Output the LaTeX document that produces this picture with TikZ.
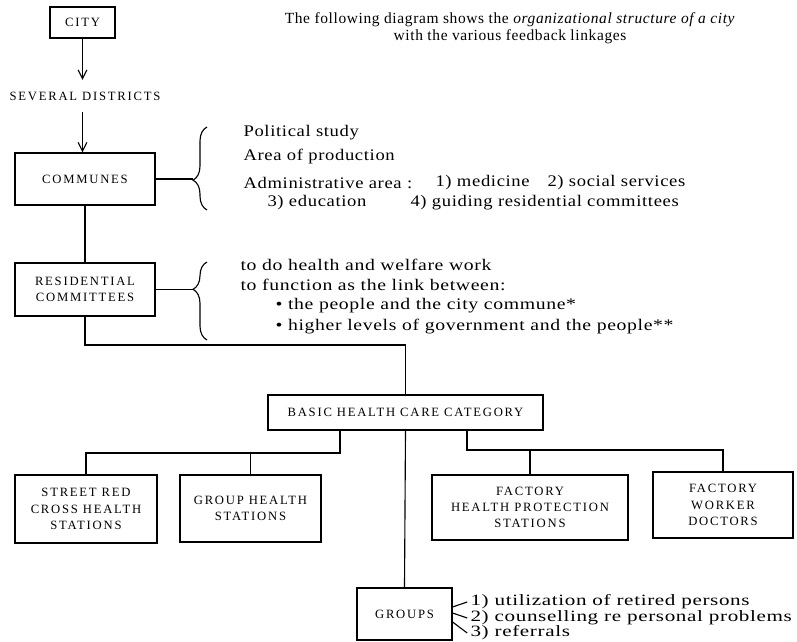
\documentclass[tikz,border=0pt]{standalone}
\usepackage{fontspec}
\setmainfont{Liberation Serif}
\newfontfamily\capsfont[LetterSpace=14]{Liberation Serif}
\newfontfamily\plainfont[LetterSpace=4]{Liberation Serif}
\newfontfamily\notesfont[LetterSpace=4, FakeStretch=1.15]{Liberation Serif}
\newfontfamily\widefont[LetterSpace=4, FakeStretch=1.22]{Liberation Serif}
\newfontfamily\itemfont[LetterSpace=4, FakeStretch=1.34]{Liberation Serif}
\newcommand\boxfont{\capsfont\fontsize{9}{11.5}\selectfont}
\newcommand\titlefont{\plainfont\fontsize{11}{12}\selectfont}
\usetikzlibrary{arrows.meta,decorations.pathreplacing}
\tikzset{
  unit/.style = {draw, align=center, font=\boxfont, inner sep=2pt},
  note/.style = {anchor=west, font=\notesfont\fontsize{11.5}{13.5}\selectfont, inner sep=0pt},
  wide/.style = {note, font=\widefont\fontsize{11.5}{13.5}\selectfont},
  item/.style = {note, font=\itemfont\fontsize{11.2}{13}\selectfont},
  curly/.style = {decorate, decoration={brace, amplitude=0.35cm, aspect=#1}},
  curly/.default = 0.5
}

\begin{document}
\begin{tikzpicture}[x=0.025cm, y=-0.025cm, line width=0.8pt,
    >={Straight Barb[length=2.2mm, width=2.2mm]}]
  \useasboundingbox (0,0) rectangle (797,642);

  \node[align=center, font=\titlefont] (title) at (510,28)
    {The following diagram shows the \textit{organizational structure of a city}\\
     with the various feedback linkages};

  % chain of command
  \node[unit, minimum width=1.625cm, minimum height=0.775cm] (city) at (82.5,22.5) {CITY};
  \node[font=\boxfont, inner xsep=0pt, inner ysep=0.28cm] (districts) at (85,96) {SEVERAL DISTRICTS};
  \node[unit, minimum width=3.5cm, minimum height=1.3cm] (communes) at (85,179) {COMMUNES};
  \node[unit, minimum width=3.5cm, minimum height=1.325cm] (resid) at (85,289.5)
    {RESIDENTIAL\\COMMITTEES};
  \node[unit, minimum width=6.875cm, minimum height=0.875cm] (basic) at (405.5,412.5)
    {BASIC HEALTH CARE CATEGORY};

  \draw[->] (city.south) -- (city.south |- districts.north);
  \draw[->] (districts.south -| city.south) -- (communes.north -| city.south);
  \draw (communes.south) -- (resid.north);

  % tasks of the communes
  \draw[curly=0.36] (207,210) -- (207,127);
  \coordinate (tip1) at (193,179);
  \draw (communes.east) -- (tip1);
  \node[note] (pol) at (243,133) {Political study};
  \node[note] (area) at (243,157) {Area of production};
  \node[note] (admin) at (243,183) {Administrative area :};
  \node[note] (med) at (435,183) {1) medicine};
  \node[note] (soc) at (547,183) {2) social services};
  \node[note] (edu) at (267,203) {3) education};
  \node[note] (guide) at (410,203) {4) guiding residential committees};

  % tasks of the residential committees
  \draw[curly=0.65] (207,340) -- (207,262);
  \coordinate (tip2) at (193,289.5);
  \draw (resid.east) -- (tip2);
  \node[wide] (work) at (240,265) {to do health and welfare work};
  \node[wide] (link) at (240,285) {to function as the link between:};
  \node[wide] (link1) at (275,306) {\textbullet\ the people and the city commune*};
  \node[wide] (link2) at (275,327) {\textbullet\ higher levels of government and the people**};

  \coordinate (bend) at (85,345);
  \draw (resid.south) -- (bend) -| (basic.north);

  % health care units
  \node[unit, minimum width=3.55cm, minimum height=1.7cm] (street) at (86,509)
    {STREET RED\\CROSS HEALTH\\STATIONS};
  \node[unit, minimum width=3.525cm, minimum height=1.675cm] (grouphs) at (250.5,508.5)
    {GROUP HEALTH\\STATIONS};
  \node[unit, minimum width=4.9cm, minimum height=1.625cm] (fhps) at (530,507.5)
    {FACTORY\\HEALTH PROTECTION\\STATIONS};
  \node[unit, minimum width=3.5cm, minimum height=1.65cm] (worker) at (723,505)
    {FACTORY\\WORKER\\DOCTORS};
  \node[unit, minimum width=2.375cm, minimum height=1.3cm] (groups) at (404.5,614) {GROUPS};

  \coordinate (fork1) at (340,453);
  \draw (basic.south -| fork1) -- (fork1) -| (street.north);
  \draw (fork1) -| (grouphs.north);
  \coordinate (fork2) at (467,450);
  \draw (basic.south -| fork2) -- (fork2) -| (worker.north);
  \draw (fork2) -| (fhps.north);
  \draw (basic.south) -- (groups.north);

  % tasks of the groups
  \node[item] (item1) at (470,602) {1) utilization of retired persons};
  \node[item] (item2) at (470,618) {2) counselling re personal problems};
  \node[item] (item3) at (470,633) {3) referrals};
  \draw ([yshift=0.175cm]groups.east) -- ([xshift=-2pt]item1.west);
  \draw ([yshift=0.025cm]groups.east) -- ([xshift=-2pt]item2.west);
  \draw ([yshift=-0.2cm]groups.east) -- ([xshift=-2pt]item3.west);
\end{tikzpicture}
\end{document}
